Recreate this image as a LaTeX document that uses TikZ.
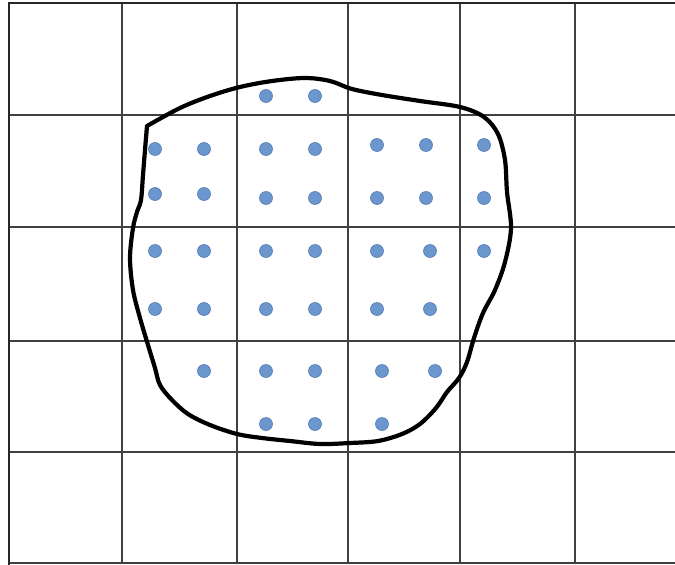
\documentclass[tikz,border=0pt]{standalone}
\begin{document}
\begin{tikzpicture}[x=1pt,y=-1pt,
  gridline/.style={draw=black!75,line width=1.1pt},
  border/.style={draw=black!85,line width=2pt},
  blob/.style={draw=black,line width=4.2pt,line join=round,line cap=round},
  pt/.style={circle,fill=dotblue,draw=dotedge,line width=0.6pt,inner sep=0pt,minimum size=13pt}]
\definecolor{dotblue}{RGB}{108,151,206}
\definecolor{dotedge}{RGB}{84,124,180}
\useasboundingbox (0,0) rectangle (675,565);
\fill[white] (0,0) rectangle (675,565);
% grid
\foreach \x in {122,237,348,460,575} \draw[gridline] (\x,3) -- (\x,563);
\foreach \y in {115,227,341,452,563} \draw[gridline] (8,\y) -- (675,\y);
\draw[border] (675,3) -- (9,3) -- (9,565);
% outline
\draw[blob] plot[smooth,tension=0.55] coordinates {
 (147,126) (180,108) (210,96) (240,87) (272,81) (305,78) (330,81) (352,89) (382,95)
 (420,101) (460,107) (484,117) (498,134) (505,160) (507,192) (511,228) (505,262)
 (495,290) (483,313) (474,338) (467,362) (459,378) (447,392) (436,408) (420,424)
 (402,434) (378,441) (350,443) (320,444) (290,441) (262,438) (237,434) (210,425)
 (188,414) (172,400) (160,385) (155,368) (148,345) (140,318) (133,290) (130,258)
 (133,228) (137,212) (141,200) (143,175) (145,150) (147,126)};
% dots
\foreach \x/\y [count=\i] in {266/96,315/96,
 155/149,204/149,266/149,315/149,377/145,426/145,484/145,
 155/194,204/194,266/198,315/198,377/198,426/198,484/198,
 155/251,204/251,266/251,315/251,377/251,430/251,484/251,
 155/309,204/309,266/309,315/309,377/309,430/309,
 204/371,266/371,315/371,382/371,435/371,
 266/424,315/424,382/424}
 \node[pt] (d\i) at (\x,\y) {};
\end{tikzpicture}
\end{document}
